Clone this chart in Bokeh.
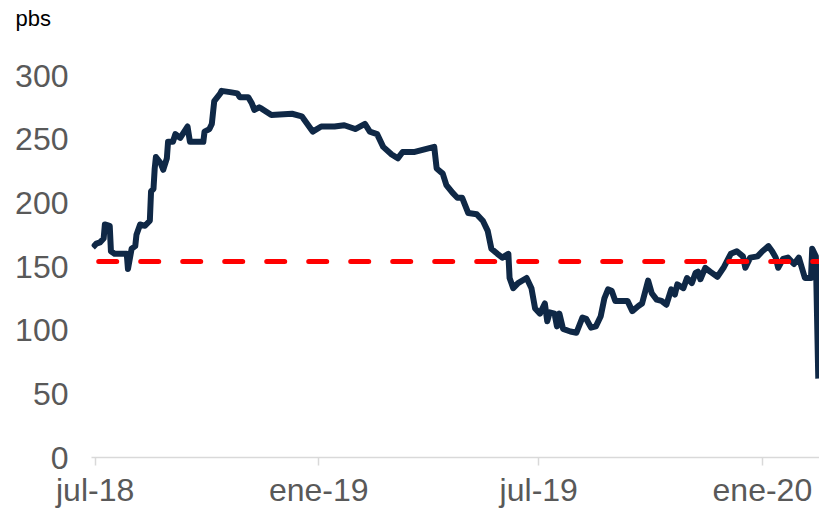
import pandas as pd
from bokeh.plotting import figure
from bokeh.models import FixedTicker, Range1d
from bokeh.embed import file_html
from bokeh.resources import INLINE

dates = [
    "2018-06-29", "2018-07-02", "2018-07-05", "2018-07-08", "2018-07-09", "2018-07-13",
    "2018-07-14", "2018-07-17", "2018-07-27", "2018-07-28", "2018-07-31", "2018-08-03",
    "2018-08-04", "2018-08-07", "2018-08-11", "2018-08-15", "2018-08-16", "2018-08-18",
    "2018-08-19", "2018-08-20", "2018-08-24", "2018-08-26", "2018-08-29", "2018-08-30",
    "2018-09-03", "2018-09-05", "2018-09-09", "2018-09-11", "2018-09-15", "2018-09-17",
    "2018-09-28", "2018-09-29", "2018-10-03", "2018-10-05", "2018-10-07", "2018-10-12",
    "2018-10-13", "2018-10-20", "2018-10-26", "2018-10-28", "2018-11-04", "2018-11-07",
    "2018-11-09", "2018-11-13", "2018-11-15", "2018-11-23", "2018-12-10", "2018-12-18",
    "2018-12-27", "2019-01-03", "2019-01-14", "2019-01-22", "2019-01-31", "2019-02-08",
    "2019-02-12", "2019-02-18", "2019-02-23", "2019-03-02", "2019-03-07", "2019-03-11",
    "2019-03-21", "2019-03-29", "2019-04-06", "2019-04-08", "2019-04-13", "2019-04-16",
    "2019-04-21", "2019-04-25", "2019-04-29", "2019-05-04", "2019-05-11", "2019-05-16",
    "2019-05-20", "2019-05-23", "2019-05-28", "2019-06-01", "2019-06-06", "2019-06-07",
    "2019-06-10", "2019-06-14", "2019-06-21", "2019-06-25", "2019-06-28", "2019-07-02",
    "2019-07-06", "2019-07-08", "2019-07-10", "2019-07-14", "2019-07-16", "2019-07-18",
    "2019-07-21", "2019-07-27", "2019-08-01", "2019-08-06", "2019-08-09", "2019-08-13",
    "2019-08-17", "2019-08-21", "2019-08-24", "2019-08-27", "2019-08-30", "2019-09-02",
    "2019-09-12", "2019-09-16", "2019-09-21", "2019-09-24", "2019-09-29", "2019-10-02",
    "2019-10-06", "2019-10-10", "2019-10-14", "2019-10-18", "2019-10-21", "2019-10-23",
    "2019-10-28", "2019-10-31", "2019-11-04", "2019-11-07", "2019-11-09", "2019-11-11",
    "2019-11-15", "2019-11-19", "2019-11-25", "2019-11-30", "2019-12-06", "2019-12-11",
    "2019-12-16", "2019-12-18", "2019-12-22", "2019-12-28", "2020-01-01", "2020-01-06",
    "2020-01-09", "2020-01-12", "2020-01-14", "2020-01-18", "2020-01-22", "2020-01-27",
    "2020-01-31", "2020-02-05", "2020-02-10", "2020-02-11", "2020-02-14", "2020-02-16",
]
spread = [
    165, 168, 169, 172, 183, 182,
    162, 160, 160, 148, 164, 166,
    175, 183, 182, 186, 209, 211,
    227, 236, 231, 226, 235, 248,
    248, 254, 251, 254, 260, 248,
    248, 256, 258, 262, 280, 286,
    288, 287, 286, 283, 283, 278,
    273, 275, 274, 269, 270, 268,
    256, 260, 260, 261, 258, 262,
    256, 254, 244, 238, 235, 240,
    240, 242, 244, 227, 223, 214,
    208, 204, 204, 192, 191, 186,
    178, 164, 160, 157, 160, 141,
    133, 137, 141, 133, 117, 113,
    121, 107, 114, 113, 103, 113,
    101, 99, 98, 110, 109, 102,
    103, 111, 125, 132, 131, 123,
    123, 115, 119, 121, 139, 129,
    124, 123, 120, 132, 128, 136,
    133, 141, 137, 145, 146, 140,
    149, 146, 142, 149, 160, 162,
    158, 149, 157, 158, 162, 166,
    162, 157, 149, 156, 157, 152,
    157, 141, 141, 164, 158, 62,
]
threshold = 154
tick_dates = ["2018-07-01", "2019-01-01", "2019-07-01", "2020-01-01"]
tick_labels = ["jul-18", "ene-19", "jul-19", "ene-20"]
unit_label = "pbs"
y_ticks = [0, 50, 100, 150, 200, 250, 300]

x = pd.to_datetime(dates)
tick_ms = [pd.Timestamp(d).value // 10**6 for d in tick_dates]

x_start = pd.Timestamp("2018-06-28")
x_end = pd.Timestamp("2020-02-17")

p = figure(width=819, height=510, x_axis_type="datetime",
           output_backend="svg", toolbar_location=None,
           x_range=Range1d(x_start, x_end), y_range=Range1d(0, 335.4),
           min_border_left=91, min_border_right=0, min_border_top=30,
           min_border_bottom=0)
p.outline_line_color = None
p.grid.visible = False
p.background_fill_color = "white"
p.border_fill_color = "white"

p.title.text = unit_label
p.title.align = "left"
p.title.offset = -76
p.title.standoff = 0
p.title.text_font = "Liberation Sans"
p.title.text_font_size = "22px"
p.title.text_font_style = "normal"
p.title.text_color = "#000000"

p.line(x, spread, line_color="#0F2846", line_width=6, line_join="round")
p.line([x[0], x[-1]], [threshold, threshold], line_color="#FF0000", line_width=5,
       line_dash="18 24", line_dash_offset=-6, line_cap="round")

xa = p.xaxis[0]
xa.ticker = FixedTicker(ticks=tick_ms)
xa.major_label_overrides = {t: l for t, l in zip(tick_ms, tick_labels)}
xa.axis_line_color = "#D9D9D9"
xa.axis_line_width = 1.5
xa.major_tick_line_color = "#D9D9D9"
xa.major_tick_line_width = 1.5
xa.major_tick_in = 0
xa.major_tick_out = 8
xa.minor_tick_line_color = None
xa.major_label_text_font = "Liberation Sans"
xa.major_label_text_font_size = "32px"
xa.major_label_text_color = "#595959"
xa.major_label_standoff = 6

ya = p.yaxis[0]
ya.ticker = FixedTicker(ticks=y_ticks)
ya.axis_line_color = None
ya.major_tick_line_color = None
ya.minor_tick_line_color = None
ya.major_tick_out = 0
ya.major_tick_in = 0
ya.major_label_text_font = "Liberation Sans"
ya.major_label_text_font_size = "32px"
ya.major_label_text_color = "#595959"
ya.major_label_standoff = 23

open("out.html", "w").write(file_html(p, INLINE))
